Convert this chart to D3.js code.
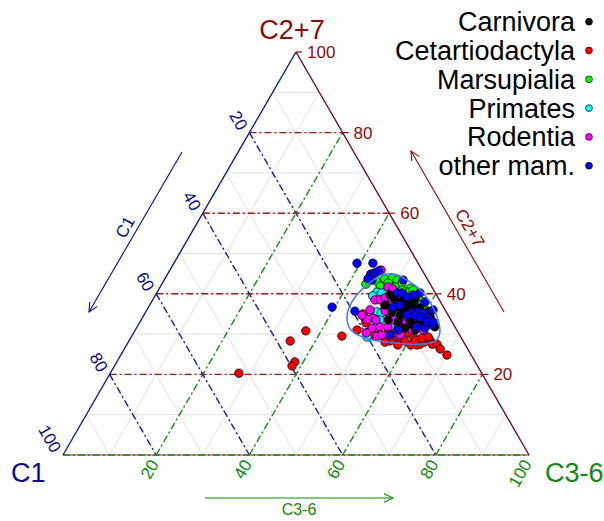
<!DOCTYPE html>
<html>
<head>
<meta charset="utf-8">
<script src="https://cdn.jsdelivr.net/npm/d3@7"></script>
<style>
  body { margin: 0; background: #fff; }
  text { font-family: "Liberation Sans", Arial, Helvetica, sans-serif; }
</style>
</head>
<body>
<svg id="chart" width="604" height="521"></svg>
<script>
// Compositions in percent, each row is [C1, C2+7, C3-6]
const groups = ["Carnivora", "Cetartiodactyla", "Marsupialia", "Primates", "Rodentia", "other mam."];
const groupColors = ["#000000", "#ff0000", "#00ff00", "#00ffff", "#ff00ff", "#0000ff"];
const tickValues = [20, 40, 60, 80, 100];
const gridValues = [10, 20, 30, 40, 50, 60, 70, 80, 90];
const guideValues = [20, 40, 60, 80];

const carnivora = [
  [10.0,36.7,53.3],[8.3,38.0,53.7],[7.8,36.7,55.5],[6.5,37.2,56.3],[6.1,36.0,57.9],[8.8,33.5,57.7],
  [6.9,33.0,60.1],[5.0,34.7,60.3],[4.1,34.2,61.7],[10.3,34.7,55.0],[7.0,39.2,53.8],[5.2,38.5,56.3],
  [11.7,35.5,52.8],[11.6,33.0,55.4],[3.9,35.5,60.6],[8.8,32.3,58.9],[5.2,36.5,58.3],[4.3,31.8,63.9],
  [10.0,39.7,50.3],[12.3,37.2,50.5],[9.1,36.0,54.9],[6.6,38.0,55.4],[5.8,34.0,60.2],[8.9,31.0,60.1],
  [10.9,31.5,57.6],[9.5,38.5,52.0],[13.5,33.5,53.0]
];
const cetartiodactyla = [
  [52.1,20.3,27.6],[37.1,28.3,34.6],[32.5,30.8,36.7],[38.7,23.1,38.2],[39.8,22.1,38.1],[25.4,29.5,45.1],
  [21.4,31.0,47.6],[18.1,35.0,46.9],[18.2,34.0,47.8],[19.3,30.5,50.2],[18.6,29.8,51.6],[17.5,29.8,52.7],
  [16.6,29.5,53.9],[15.5,30.0,54.5],[13.7,31.0,55.3],[14.5,28.5,57.0],[13.4,28.5,58.1],[12.5,28.3,59.2],
  [10.8,30.3,58.9],[11.7,27.3,61.0],[10.4,27.3,62.3],[10.1,29.5,60.4],[9.6,27.5,62.9],[8.5,28.0,63.5],
  [7.0,28.5,64.5],[7.0,27.5,65.5],[6.0,27.5,66.5],[5.9,26.3,67.8],[5.2,24.8,70.0],[12.0,30.5,57.5],
  [18.6,32.8,48.6],[15.7,28.3,56.0],[7.0,29.3,63.7],[13.8,35.5,50.7],[10.2,28.5,61.3],[8.5,29.0,62.5],
  [14.5,27.3,58.2],[16.9,28.0,55.1]
];
const marsupialia = [
  [12.4,43.9,43.7],[9.1,43.7,47.2],[7.4,43.9,48.7],[6.6,43.4,50.0],[5.9,42.7,51.4],[4.8,41.4,53.8],
  [5.8,40.4,53.8],[4.9,39.2,55.9],[4.2,38.5,57.3],[4.1,37.2,58.7],[11.9,43.7,44.4],[8.9,42.7,48.4],
  [7.9,41.7,50.4],[4.4,40.9,54.7],[11.2,43.2,45.6],[6.8,40.9,52.3],[5.2,37.7,57.1],[13.8,42.4,43.8],
  [4.8,36.0,59.2],[11.0,41.9,47.1]
];
const primates = [
  [12.4,40.4,47.2],[12.5,39.5,48.0],[14.9,35.5,49.6],[14.1,35.2,50.7],[14.5,32.8,52.7],[20.1,29.3,50.6],
  [13.8,32.0,54.2],[12.6,35.2,52.2],[13.8,39.5,46.7],[11.5,40.2,48.3],[15.2,33.5,51.3],[5.6,35.5,58.9]
];
const rodentia = [
  [8.8,45.9,45.3],[9.4,41.7,48.9],[8.6,41.2,50.2],[13.8,38.5,47.7],[12.7,38.5,48.8],[11.4,39.0,49.6],
  [11.7,37.2,51.1],[10.3,37.7,52.0],[16.5,34.0,49.5],[17.9,33.7,48.4],[18.5,34.7,46.8],[17.9,31.5,50.6],
  [16.1,31.8,52.1],[14.4,31.8,53.8],[19.8,30.3,49.9],[17.9,29.5,52.6],[16.7,29.8,53.5],[7.3,33.5,59.2],
  [9.4,33.5,57.1],[11.6,33.5,54.9],[10.8,32.5,56.7],[9.6,31.0,59.4],[7.2,31.0,61.8],[12.2,33.5,54.3],
  [13.0,35.7,51.3],[16.1,33.5,50.4],[8.6,39.0,52.4],[8.6,36.0,55.4],[6.1,36.7,57.2],[16.1,36.0,47.9],
  [7.3,32.3,60.4],[12.8,29.8,57.4]
];
const otherMam = [
  [13.1,47.6,39.3],[9.7,47.6,42.7],[23.9,36.7,39.4],[11.5,44.9,43.6],[10.5,45.2,44.3],[12.0,43.4,44.6],
  [8.2,40.2,51.6],[19.5,35.7,44.8],[7.4,35.5,57.1],[6.1,35.5,58.4],[5.1,35.2,59.7],[4.7,34.0,61.3],
  [4.7,32.3,63.0],[6.6,31.5,61.9],[8.2,31.8,60.0],[7.9,35.2,56.9],[7.2,40.2,52.6],[6.6,39.2,54.2],
  [10.8,36.7,52.5],[12.6,31.0,56.4],[7.2,34.5,58.3],[8.8,34.7,56.5],[5.4,33.0,61.6],[4.1,33.0,62.9],
  [9.4,45.7,44.9],[12.7,43.7,43.6],[5.3,43.4,51.3],[3.3,40.2,56.5],[3.3,38.0,58.7],[2.6,36.0,61.4],
  [6.3,34.2,59.5],[9.1,37.2,53.7],[5.0,39.7,55.3],[14.9,29.8,55.3]
];

// contour of the pooled sample and its inner core region
const contourRing = [
  [8.5,44.9,46.6],[6.0,44.7,49.3],[4.5,43.4,52.1],[3.2,41.7,55.1],[2.5,39.7,57.8],[2.3,37.0,60.7],
  [2.6,34.2,63.2],[3.6,31.0,65.4],[5.0,29.0,66.0],[6.6,28.0,65.4],[10.0,27.5,62.5],[14.9,27.8,57.3],
  [20.1,28.8,51.1],[22.6,30.8,46.6],[22.3,33.5,44.2],[20.4,36.5,43.1],[17.7,39.2,43.1],[14.4,41.7,43.9],
  [11.2,43.7,45.1]
];
const coreRegion = [
  [11.2,42.4,46.4],[6.8,42.7,50.5],[3.7,40.2,56.1],[3.9,35.5,60.6],[6.4,30.5,63.1],[12.9,29.5,57.6],
  [17.6,30.5,51.9],[17.2,34.7,48.1],[14.4,39.5,46.1]
];

const seriesByGroup = [carnivora, cetartiodactyla, marsupialia, primates, rodentia, otherMam];

const svg = d3.select("#chart");

// Ternary projection: horizontal position from C3-6 + C2+7/2, height from C2+7
const x = d3.scaleLinear().domain([0, 100]).range([63, 529]);
const y = d3.scaleLinear().domain([0, 100]).range([455, 52]);
const px = d => x(d[2] + d[1] / 2);
const py = d => y(d[1]);
const pt = d => [px(d), py(d)];

const navy = "#0a0a8c", dred = "#8b0a0a", dgreen = "#0f8a0f";
const dashDot = "7,3,2,3";

const gGrid = svg.append("g");
// light 10% grid
gridValues.forEach(k => {
  [[[100 - k, k, 0], [0, k, 100 - k]],
   [[k, 100 - k, 0], [k, 0, 100 - k]],
   [[100 - k, 0, k], [0, 100 - k, k]]].forEach(seg => {
    gGrid.append("line")
      .attr("x1", px(seg[0])).attr("y1", py(seg[0]))
      .attr("x2", px(seg[1])).attr("y2", py(seg[1]))
      .attr("stroke", "#e2e2e2").attr("stroke-width", 1);
  });
});

// coloured dash-dot guides every 20%
guideValues.forEach(k => {
  const defs = [
    { seg: [[100 - k, k, 0], [0, k, 100 - k]], color: "#a01818" },
    { seg: [[k, 100 - k, 0], [k, 0, 100 - k]], color: "#1a1aa0" },
    { seg: [[100 - k, 0, k], [0, 100 - k, k]], color: "#1a8a1a" }
  ];
  defs.forEach(o => {
    gGrid.append("line")
      .attr("x1", px(o.seg[0])).attr("y1", py(o.seg[0]))
      .attr("x2", px(o.seg[1])).attr("y2", py(o.seg[1]))
      .attr("stroke", o.color).attr("stroke-width", 1.4)
      .attr("stroke-dasharray", dashDot);
  });
});

// triangle edges
const vC1 = [100, 0, 0], vC2 = [0, 100, 0], vC3 = [0, 0, 100];
gGrid.append("line").attr("x1", px(vC1)).attr("y1", py(vC1)).attr("x2", px(vC3)).attr("y2", py(vC3))
  .attr("stroke", "#a01818").attr("stroke-width", 1.2);
gGrid.append("line").attr("x1", px(vC1)).attr("y1", py(vC1)).attr("x2", px(vC3)).attr("y2", py(vC3))
  .attr("stroke", "#1a8a1a").attr("stroke-width", 1.3).attr("stroke-dasharray", dashDot);
gGrid.append("line").attr("x1", px(vC1)).attr("y1", py(vC1)).attr("x2", px(vC2)).attr("y2", py(vC2))
  .attr("stroke", "#10207a").attr("stroke-width", 1.4);
gGrid.append("line").attr("x1", px(vC2)).attr("y1", py(vC2)).attr("x2", px(vC3)).attr("y2", py(vC3))
  .attr("stroke", "#6a0c30").attr("stroke-width", 1.4);

// axis ticks and labels
const gAx = svg.append("g").style("font-size", "17px");
tickValues.forEach(k => {
  // C2+7 on the right edge
  const r = [0, k, 100 - k];
  gAx.append("line").attr("x1", px(r)).attr("y1", py(r)).attr("x2", px(r) + 6).attr("y2", py(r))
    .attr("stroke", dred).attr("stroke-width", 1.2);
  gAx.append("text").attr("x", px(r) + 11).attr("y", py(r)).attr("dy", "0.35em")
    .attr("fill", dred).text(k);
  // C1 on the left edge
  const l = [k, 100 - k, 0];
  gAx.append("text")
    .attr("transform", `translate(${px(l) - 6},${py(l) - 4}) rotate(60)`)
    .attr("text-anchor", "end").attr("dy", "0.35em")
    .attr("fill", navy).text(k);
  // C3-6 on the bottom edge
  const b = [100 - k, 0, k];
  gAx.append("text")
    .attr("transform", `translate(${px(b) - 2},${py(b) + 6}) rotate(-60)`)
    .attr("text-anchor", "end").attr("dy", "0.35em")
    .attr("fill", dgreen).text(k);
});

// corner titles
svg.append("text").attr("x", px(vC2) - 4).attr("y", 39).attr("text-anchor", "middle")
  .style("font-size", "27px").attr("fill", dred).text("C2+7");
svg.append("text").attr("x", 11).attr("y", 482)
  .style("font-size", "27px").attr("fill", navy).text("C1");
svg.append("text").attr("x", 545).attr("y", 482)
  .style("font-size", "27px").attr("fill", dgreen).text("C3-6");

// direction arrows
function arrow(x1, y1, x2, y2, color) {
  const ang = Math.atan2(y2 - y1, x2 - x1), L = 10, spread = 0.45;
  svg.append("line").attr("x1", x1).attr("y1", y1).attr("x2", x2).attr("y2", y2)
    .attr("stroke", color).attr("stroke-width", 1.1);
  const p = d3.path();
  p.moveTo(x2 - L * Math.cos(ang - spread), y2 - L * Math.sin(ang - spread));
  p.lineTo(x2, y2);
  p.lineTo(x2 - L * Math.cos(ang + spread), y2 - L * Math.sin(ang + spread));
  svg.append("path").attr("d", p.toString()).attr("fill", "none")
    .attr("stroke", color).attr("stroke-width", 1.1);
}
arrow(182, 152, 89, 312, navy);
arrow(504, 312, 411, 151, dred);
arrow(205, 498, 393, 498, dgreen);

svg.append("text").attr("transform", "translate(125,227) rotate(-60)")
  .attr("text-anchor", "middle").attr("dy", "0.35em")
  .style("font-size", "17px").attr("fill", navy).text("C1");
svg.append("text").attr("transform", "translate(470,228) rotate(60)")
  .attr("text-anchor", "middle").attr("dy", "0.35em")
  .style("font-size", "17px").attr("fill", dred).text("C2+7");
svg.append("text").attr("x", 299).attr("y", 515).attr("text-anchor", "middle")
  .style("font-size", "16px").attr("fill", dgreen).text("C3-6");

// core region shading and contour
svg.append("path")
  .attr("d", d3.line().curve(d3.curveCardinalClosed)(coreRegion.map(pt)))
  .attr("fill", "#e4def6").attr("stroke", "none");

// points, drawn in layers
const drawOrder = [1, 2, 3, 4, 0, 5];
const gPts = svg.append("g");
drawOrder.forEach(i => {
  gPts.selectAll(null).data(seriesByGroup[i]).enter().append("circle")
    .attr("cx", px).attr("cy", py).attr("r", 4.2)
    .attr("fill", groupColors[i]).attr("stroke", "#000").attr("stroke-width", 0.8);
});

svg.append("path")
  .attr("d", d3.line().curve(d3.curveCardinalClosed)(contourRing.map(pt)))
  .attr("fill", "none").attr("stroke", "#4a7cf0").attr("stroke-width", 1.6);

// legend
const gLeg = svg.append("g");
groups.forEach((name, i) => {
  const cy = 21.7 + 28.8 * i;
  gLeg.append("text").attr("x", 575).attr("y", cy + 9.5).attr("text-anchor", "end")
    .style("font-size", "27px").attr("fill", "#000").text(name);
  gLeg.append("circle").attr("cx", 589).attr("cy", cy).attr("r", 3.4)
    .attr("fill", groupColors[i]).attr("stroke", "#000").attr("stroke-width", 0.7);
});
</script>
</body>
</html>
